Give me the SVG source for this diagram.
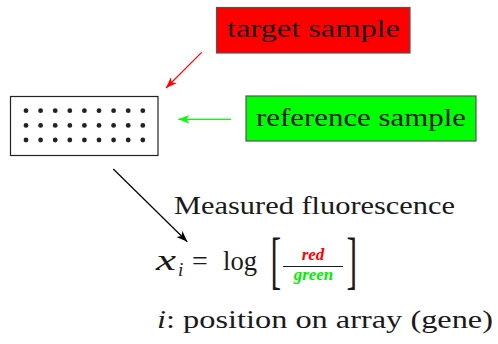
<svg xmlns="http://www.w3.org/2000/svg" width="498" height="344" viewBox="0 0 498 344" font-family="Liberation Serif, serif">
<style>
text{fill:#1a1a1a}
.box{stroke:#555;stroke-width:1.2}
.dot{fill:#222}
.lbl{font-size:26px}
.mi{font-style:italic}
.fr{font-style:italic;font-weight:bold;font-size:17px}
</style>
<defs>
<marker id="ahR" viewBox="-11 -5 12 10" refX="0" refY="0" markerWidth="12" markerHeight="10" markerUnits="userSpaceOnUse" orient="auto"><path d="M0,0 L-11,-4.2 L-8,0 L-11,4.2 Z" fill="#ff0000"/></marker>
<marker id="ahG" viewBox="-11 -5 12 10" refX="0" refY="0" markerWidth="12" markerHeight="10" markerUnits="userSpaceOnUse" orient="auto"><path d="M0,0 L-11,-4.2 L-8,0 L-11,4.2 Z" fill="#00ff00"/></marker>
<marker id="ahK" viewBox="-11 -5 12 10" refX="0" refY="0" markerWidth="12" markerHeight="10" markerUnits="userSpaceOnUse" orient="auto"><path d="M0,0 L-11,-4.2 L-8,0 L-11,4.2 Z" fill="#000"/></marker>
</defs>
<g id="target">
<rect class="box" x="216.5" y="7.5" width="193.5" height="45.5" fill="#ff0000"/>
<text class="lbl" x="227" y="37" font-family="Liberation Serif" textLength="173" lengthAdjust="spacingAndGlyphs">target sample</text>
</g>
<g id="reference">
<rect class="box" x="246" y="96" width="230" height="45" fill="#00ff00"/>
<text class="lbl" x="256" y="126" font-family="Liberation Serif" textLength="210" lengthAdjust="spacingAndGlyphs">reference sample</text>
</g>
<g id="array">
<rect x="10.5" y="96.5" width="147.5" height="59" fill="#fff" stroke="#222" stroke-width="1.2"/>
<g class="dot">
<circle cx="26" cy="110.7" r="2.4"/><circle cx="40.6" cy="110.7" r="2.4"/><circle cx="55.2" cy="110.7" r="2.4"/><circle cx="69.8" cy="110.7" r="2.4"/><circle cx="84.4" cy="110.7" r="2.4"/><circle cx="99" cy="110.7" r="2.4"/><circle cx="113.6" cy="110.7" r="2.4"/><circle cx="128.2" cy="110.7" r="2.4"/><circle cx="142.8" cy="110.7" r="2.4"/>
<circle cx="26" cy="125.4" r="2.4"/><circle cx="40.6" cy="125.4" r="2.4"/><circle cx="55.2" cy="125.4" r="2.4"/><circle cx="69.8" cy="125.4" r="2.4"/><circle cx="84.4" cy="125.4" r="2.4"/><circle cx="99" cy="125.4" r="2.4"/><circle cx="113.6" cy="125.4" r="2.4"/><circle cx="128.2" cy="125.4" r="2.4"/><circle cx="142.8" cy="125.4" r="2.4"/>
<circle cx="26" cy="140" r="2.4"/><circle cx="40.6" cy="140" r="2.4"/><circle cx="55.2" cy="140" r="2.4"/><circle cx="69.8" cy="140" r="2.4"/><circle cx="84.4" cy="140" r="2.4"/><circle cx="99" cy="140" r="2.4"/><circle cx="113.6" cy="140" r="2.4"/><circle cx="128.2" cy="140" r="2.4"/><circle cx="142.8" cy="140" r="2.4"/>
</g>
</g>
<g id="connectors" fill="none" stroke-width="1.2">
<line x1="201.7" y1="52.3" x2="166" y2="88" stroke="#ff0000" marker-end="url(#ahR)"/>
<line x1="231" y1="119.3" x2="178.3" y2="119.3" stroke="#00ff00" marker-end="url(#ahG)"/>
<line x1="113.3" y1="169" x2="187.3" y2="241.7" stroke="#000" marker-end="url(#ahK)"/>
</g>
<g id="measured">
<text class="lbl" x="174" y="214" font-family="Liberation Serif" textLength="281" lengthAdjust="spacingAndGlyphs">Measured fluorescence</text>
</g>
<g id="formula">
<text class="mi" x="156" y="270" font-size="30" font-family="Liberation Serif" textLength="20" lengthAdjust="spacingAndGlyphs">x</text>
<text class="mi" x="178" y="276" font-size="19" font-family="Liberation Serif">i</text>
<text x="192" y="270" font-size="28" font-family="Liberation Serif">=</text>
<text x="223" y="270" font-size="27" font-family="Liberation Serif" textLength="34" lengthAdjust="spacingAndGlyphs">log</text>
<text transform="translate(270.5,281.4) scale(1,2)" font-size="32" font-family="Liberation Serif">[</text>
<text class="fr" x="313" y="260" text-anchor="middle" font-family="Liberation Serif" style="fill:#ff0000">red</text>
<line x1="283" y1="266.5" x2="343" y2="266.5" stroke="#1a1a1a" stroke-width="1"/>
<text class="fr" x="313.5" y="280" text-anchor="middle" font-family="Liberation Serif" style="fill:#00ee00">green</text>
<text transform="translate(346.5,281.4) scale(1,2)" font-size="32" font-family="Liberation Serif">]</text>
</g>
<g id="note">
<text class="lbl" x="157" y="328" font-family="Liberation Serif" textLength="336" lengthAdjust="spacingAndGlyphs"><tspan class="mi">i</tspan>: position on array (gene)</text>
</g>
</svg>
